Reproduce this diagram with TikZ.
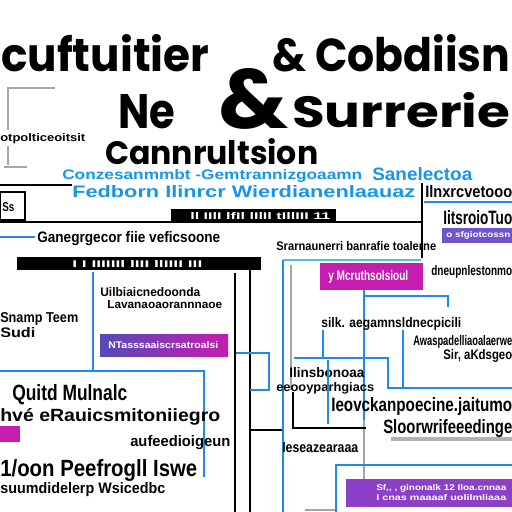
\documentclass[tikz,border=0pt]{standalone}
\usepackage{fontspec}
\usepackage{graphicx}
\setmainfont{Poppins}
\newfontfamily\gibfont{Liberation Sans}
\usepackage{tikz}
\usetikzlibrary{arrows.meta}
\definecolor{lineblue}{RGB}{30,140,228}
\definecolor{textblue}{RGB}{22,150,232}
\definecolor{boxmagenta}{RGB}{198,28,176}
\definecolor{boxpurple}{RGB}{140,64,200}
\definecolor{boxviolet}{RGB}{112,84,204}
\definecolor{gradleft}{RGB}{84,74,184}
\definecolor{lineteal}{RGB}{80,196,206}
\newlength{\px}
\setlength{\px}{0.025cm}
\newcommand{\gib}[3]{\resizebox{#1\px}{#2\px}{#3}}
\tikzset{
  ttl/.style      = {anchor=base west, inner sep=0pt, font=\bfseries},
  txt/.style      = {anchor=base west, inner sep=0pt, font=\gibfont\bfseries},
  bluetxt/.style  = {txt, text=textblue},
  wtxt/.style     = {anchor=west, inner sep=0pt, font=\gibfont\bfseries, text=white},
  bline/.style    = {draw=lineblue, line width=1.5pt},
  kline/.style    = {draw=black, line width=1pt},
  gline/.style    = {draw=gray!70, line width=0.8pt}
}
\begin{document}
\begin{tikzpicture}[x=0.025cm,y=-0.025cm]
  \useasboundingbox (0,0) rectangle (512,512);
  \clip (0,0) rectangle (512,512);
  % --- title block
  \node[ttl] (ttlA) at (1,72)   {\gib{208}{37}{cuftuitier}};
  \node[ttl] (ttlB) at (272,72) {\gib{238}{37}{\& Cobdiisn}};
  \node[ttl] (ttlC) at (118,128) {\gib{57}{34}{Ne}};
  \node[ttl] (amp)  at (218,128) {\gib{70}{60}{\&}};
  \node[ttl] (ttlD) at (292,128) {\gib{218}{35}{Surrerie}};
  \node[ttl] (ttlE) at (105,164) {\gib{213}{26}{Cannrultsion}};
  % small bracket at the left
  \draw[gline] (55,88) -- (8,88) -- (8,130);
  \draw[gline] (8,146) -- (8,165);
  \draw[gline] (4,167) -- (27,167);
  \node[txt] (brk) at (0,141) {\gib{85}{8}{otpolticeoitsit}};
  % --- blue subtitle rows
  \node[bluetxt] (subA) at (62,179) {\gib{300}{10}{Conzesanmmbt -Gemtrannizgoaamn}};
  \node[bluetxt] (subB) at (372,180) {\gib{100}{13}{Sanelectoa}};
  \node[bluetxt] (subC) at (72,197) {\gib{343}{12}{Fedborn Ilinrcr Wierdianenlaauaz}};
  \node[txt] (subD) at (425,197) {\gib{87}{12}{Ilnxrcvetooo}};
  % --- upper rules and bars
  \draw[kline] (0,185) -- (72,185);
  \draw[kline] (0,192) rectangle (25,220);
  \node[txt] (ss) at (2,211) {\gib{12}{9}{Ss}};
  \fill[black] (171,209) rectangle (336,223);
  \node[wtxt] (barA) at (190,216) {\gib{140}{7}{ll IIlI lfIl lIlIl tIllIII 11}};
  \draw[kline] (0,222) -- (422,222);
  \draw[kline] (422,183) -- (422,258);
  \draw[bline,line width=1pt] (424,202) -- (512,202);
  \node[txt] (rA) at (443,224) {\gib{69}{14}{IitsroioTuo}};
  \fill[boxviolet] (442,228) rectangle (512,243);
  \node[wtxt] (rB) at (446,235.5) {\gib{64}{6}{o sfgiotcossn}};
  % --- left block
  \draw[bline] (0,237) -- (35,237);
  \node[txt] (lA) at (37,242) {\gib{183}{11}{Ganegrgecor fiie veficsoone}};
  \fill[black] (17,257) rectangle (261,270);
  \node[wtxt] (barB) at (72,263.5) {\gib{130}{7}{I I IIIIIIl lIII llIIII III}};
  \node[txt] (lB) at (100,296) {\gib{100}{9}{Uilbiaicnedoonda}};
  \node[txt] (lC) at (107,308) {\gib{115}{8}{Lavanaoaorannnaoe}};
  \node[txt] (lD) at (0,322) {\gib{78}{10}{Snamp  Teem}};
  \node[txt] (lE) at (0,337) {\gib{35}{10}{Sudi}};
  \draw[bline] (93,272) -- (93,371);
  \shade[left color=gradleft, right color=boxmagenta] (100,334) rectangle (228,356);
  \node[wtxt] (gB) at (108,345) {\gib{110}{7}{NTasssaaiscrsatroalsi}};
  \draw[bline] (0,371) -- (204,371) -- (204,477);
  \node[txt] (lF) at (12,400) {\gib{115}{16}{Quitd  Mulnalc}};
  \node[txt] (lG) at (0,421) {\gib{220}{13}{hv\'e eRauicsmitoniiegro}};
  \fill[boxmagenta] (0,426) rectangle (20,442);
  \node[txt] (lH) at (130,446) {\gib{100}{11}{aufeedioigeun}};
  \node[txt] (lI) at (0,476) {\gib{197}{17}{1/oon Peefrogll Iswe}};
  \node[txt] (lJ) at (0,493) {\gib{165}{11}{suumdidelerp Wsicedbc}};
  % --- central connectors
  \draw[kline] (235,273) -- (235,512);
  \draw[kline] (250,270) -- (250,512);
  \draw[bline] (236,353) -- (269,353) -- (269,390) -- (250,390);
  \draw[kline] (250,430) -- (284,430);
  % --- right block
  \node[txt] (mA) at (276,250) {\gib{160}{9}{Srarnaunerri banrafie toalerne}};
  \draw[draw=lineteal, line width=2pt] (283,260) -- (421,260);
  \draw[bline] (283,260) -- (283,512);
  \draw[gline] (291,265) -- (291,390);
  \fill[boxmagenta] (320,263) rectangle (423,290);
  \node[wtxt] (mB) at (328,276.5) {\gib{80}{10}{y  Mcruthsolsioul}};
  \node[txt] (mC) at (431,275) {\gib{81}{10}{dneupnlestonmo}};
  \draw[bline] (364,290) -- (364,420);
  \draw[gline] (364,420) -- (364,479);
  \draw[bline] (364,296) -- (448,296) -- (448,307);
  \node[txt] (mD) at (321,327) {\gib{140}{10}{silk. aegamnsldnecpicili}};
  \draw[bline] (323,330) -- (323,358);
  \draw[bline] (403,330) -- (403,388);
  \node[txt] (mE) at (413,345) {\gib{99}{10}{Awaspadelliaoalaerwe}};
  \node[txt] (mF) at (443,359) {\gib{69}{10}{Sir, aKdsgeo}};
  \draw[bline] (294,358) -- (388,358) -- (388,388) -- (512,388);
  \node[txt] (mG) at (289,377) {\gib{75}{10}{Ilinsbonoaa}};
  \node[txt] (mH) at (276,391) {\gib{98}{9}{eeooyparhgiacs}};
  \draw[kline] (293,392) -- (293,428) -- (366,428);
  \draw[bline] (328,360) -- (328,424);
  \node[txt] (mI) at (331,411) {\gib{181}{14}{Ieovckanpoecine.jaitumo}};
  \node[txt] (mJ) at (383,433) {\gib{129}{14}{Sloorwrifeeedinge}};
  \fill[gray!60] (391,437) rectangle (512,441);
  \node[txt] (mK) at (282,452) {\gib{76}{10}{Ieseazearaaa}};
  \draw[bline] (512,465) -- (336,465) -- (336,512);
  \fill[boxpurple] (346,479) rectangle (512,507);
  \node[wtxt] (pA) at (376,488) {\gib{130}{6}{Sf,, ,  ginonalk 12  Iloa.cnnaa}};
  \node[wtxt] (pB) at (376,498) {\gib{130}{6}{I  cnas  maaaaf  uolilmliaaa}};
  \draw[gline] (305,510) -- (335,510);
\end{tikzpicture}
\end{document}
